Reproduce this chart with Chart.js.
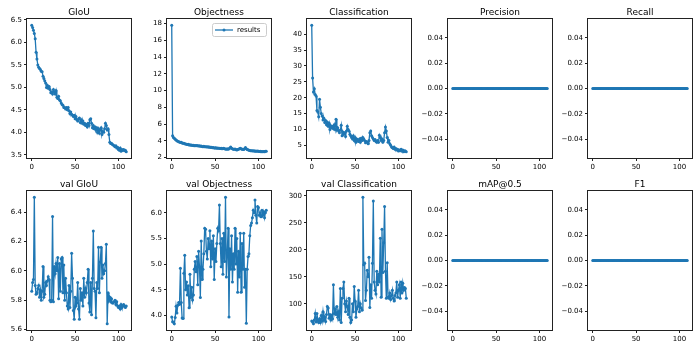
<!DOCTYPE html>
<html>
<head>
<meta charset="utf-8">
<script src="https://cdn.jsdelivr.net/npm/chart.js@4/dist/chart.umd.min.js"></script>
<style>
body { margin: 0; background: #fff; }
#wrap { position: relative; width: 700px; height: 350px; }
#wrap canvas { position: absolute; }
</style>
</head>
<body>
<div id="wrap"></div>
<script>
// training results, one value per epoch (0..109)
const giou = [
  6.38, 6.33, 6.27, 6.20, 6.08, 5.78, 5.63, 5.50, 5.45, 5.42,
  5.40, 5.36, 5.35, 5.25, 5.20, 5.15, 5.10, 5.00, 5.05, 4.98,
  5.02, 4.95, 4.88, 4.90, 4.85, 4.95, 4.90, 4.85, 4.93, 4.78,
  4.75, 4.80, 4.72, 4.70, 4.65, 4.62, 4.60, 4.55, 4.55, 4.52,
  4.55, 4.50, 4.55, 4.48, 4.42, 4.45, 4.40, 4.38, 4.35, 4.38,
  4.30, 4.35, 4.28, 4.25, 4.30, 4.32, 4.22, 4.28, 4.20, 4.25,
  4.18, 4.20, 4.15, 4.18, 4.12, 4.20, 4.15, 4.28, 4.30, 4.20,
  4.10, 4.15, 4.08, 4.12, 4.05, 4.10, 4.00, 4.08, 3.98, 4.05,
  4.10, 3.95, 4.02, 4.00, 4.08, 4.20, 4.15, 4.05, 4.08, 3.95,
  3.78, 3.75, 3.76, 3.73, 3.72, 3.70, 3.68, 3.70, 3.65, 3.67,
  3.62, 3.60, 3.65, 3.58, 3.62, 3.60, 3.62, 3.59, 3.60, 3.57
];
const objectness = [
  17.8, 4.60, 4.40, 4.30, 4.20, 4.10, 4.00, 3.95, 3.90, 3.85,
  3.80, 3.82, 3.75, 3.72, 3.70, 3.65, 3.62, 3.60, 3.55, 3.58,
  3.50, 3.52, 3.48, 3.50, 3.45, 3.47, 3.42, 3.45, 3.40, 3.43,
  3.40, 3.38, 3.42, 3.35, 3.37, 3.33, 3.30, 3.35, 3.28, 3.30,
  3.30, 3.25, 3.28, 3.22, 3.25, 3.20, 3.22, 3.18, 3.20, 3.15,
  3.15, 3.18, 3.12, 3.15, 3.10, 3.12, 3.08, 3.10, 3.05, 3.08,
  3.10, 3.05, 3.02, 3.00, 3.05, 2.98, 3.05, 3.15, 3.25, 3.10,
  3.05, 3.00, 2.98, 3.02, 2.95, 2.90, 2.95, 3.00, 3.05, 3.10,
  3.05, 2.98, 3.00, 2.95, 3.05, 3.20, 3.05, 2.95, 2.92, 2.88,
  2.85, 2.82, 2.80, 2.82, 2.78, 2.80, 2.76, 2.78, 2.75, 2.77,
  2.75, 2.72, 2.74, 2.70, 2.73, 2.70, 2.72, 2.70, 2.74, 2.75
];
const classification = [
  42.8, 26.2, 21.8, 22.8, 21.0, 20.5, 16.0, 15.5, 14.0, 19.5,
  17.0, 15.0, 14.2, 13.0, 13.5, 12.2, 12.8, 11.5, 12.3, 11.0,
  12.0, 10.0, 11.2, 10.5, 11.0, 10.2, 11.5, 10.0, 13.2, 9.8,
  10.5, 9.5, 9.0, 9.8, 11.3, 8.0, 9.2, 8.5, 9.0, 7.8,
  9.5, 11.0, 10.0, 9.5, 8.5, 8.0, 7.5, 7.0, 8.0, 6.5,
  7.5, 6.0, 7.0, 6.5, 6.2, 7.0, 6.0, 7.2, 6.5, 7.5,
  7.0, 6.5, 5.8, 6.2, 6.0, 5.5, 6.5, 9.0, 9.5, 8.0,
  7.5, 7.0, 6.5, 6.8, 6.2, 6.0, 6.5, 6.0, 8.2, 7.5,
  6.5, 7.0, 6.0, 6.5, 9.0, 10.8, 9.5, 7.5, 6.0, 6.5,
  5.5, 5.0, 4.5, 4.2, 4.0, 4.5, 3.8, 4.0, 3.5, 3.8,
  3.2, 3.5, 3.3, 3.8, 3.2, 3.5, 3.0, 3.3, 3.2, 3.0
];
const valGiou = [
  5.86, 5.92, 5.94, 6.50, 5.90, 5.84, 5.85, 5.88, 5.90, 5.82,
  5.87, 5.80, 5.86, 6.03, 5.82, 5.84, 5.92, 5.90, 5.93, 5.96,
  5.94, 5.80, 5.79, 5.80, 6.37, 5.79, 6.03, 5.98, 6.05, 6.00,
  6.09, 5.81, 6.05, 5.86, 6.08, 6.09, 5.85, 6.04, 5.80, 5.95,
  5.85, 5.76, 5.74, 5.90, 5.75, 5.86, 6.12, 5.95, 5.73, 5.67,
  5.82, 5.76, 5.78, 5.92, 5.74, 5.67, 5.88, 5.80, 5.85, 5.76,
  5.95, 5.82, 5.88, 5.85, 5.92, 6.01, 5.78, 5.72, 5.92, 5.70,
  5.95, 6.27, 5.88, 5.86, 5.68, 5.92, 5.88, 6.16, 5.85, 6.06,
  6.16, 5.95, 6.04, 5.98, 6.00, 6.05, 6.18, 5.64, 5.85, 5.80,
  5.82, 5.79, 5.81, 5.78, 5.78, 5.79, 5.80, 5.77, 5.79, 5.76,
  5.75, 5.76, 5.74, 5.77, 5.75, 5.76, 5.77, 5.76, 5.75, 5.76
];
const valObjectness = [
  3.97, 3.88, 3.87, 3.84, 3.96, 4.18, 4.05, 4.20, 4.25, 4.22,
  4.92, 4.25, 3.95, 3.94, 4.82, 5.17, 4.50, 4.65, 4.40, 4.58,
  4.15, 4.80, 4.35, 4.55, 4.30, 4.40, 4.90, 5.05, 4.85, 5.15,
  4.60, 5.25, 4.95, 4.35, 5.45, 4.70, 4.90, 5.20, 5.70, 5.68,
  5.25, 5.10, 5.50, 5.30, 5.65, 4.95, 5.45, 5.10, 5.55, 4.70,
  5.30, 5.05, 5.40, 5.70, 5.65, 6.15, 5.40, 4.95, 5.50, 4.80,
  5.60, 5.05, 6.30, 4.75, 5.20, 5.70, 3.97, 5.30, 4.90, 5.55,
  4.65, 5.20, 4.90, 5.70, 5.00, 5.50, 4.45, 5.25, 4.75, 5.60,
  4.45, 5.40, 4.90, 5.60, 4.55, 4.90, 3.85, 4.90, 5.15, 5.20,
  5.55, 5.75, 5.80, 5.90, 6.05, 6.00, 6.25, 5.95, 5.80, 6.12,
  6.10, 5.95, 6.00, 5.92, 6.05, 5.95, 6.02, 5.90, 6.00, 6.05
];
const valClassification = [
  68, 66, 63, 70, 82, 66, 82, 70, 65, 72,
  65, 78, 68, 85, 70, 75, 67, 80, 95, 92,
  73, 80, 70, 78, 72, 135, 82, 90, 80, 95,
  75, 85, 70, 128, 65, 110, 128, 140, 100, 85,
  105, 95, 80, 110, 75, 65, 70, 100, 85, 132,
  105, 75, 90, 95, 125, 85, 100, 92, 88, 297,
  172, 175, 106, 125, 162, 150, 186, 93, 135, 110,
  175, 290, 140, 125, 118, 160, 135, 155, 140, 221,
  112, 238, 158, 213, 280, 160, 110, 176, 112, 110,
  120, 108, 115, 125, 110, 105, 115, 120, 140, 112,
  125, 135, 110, 140, 120, 138, 125, 130, 128, 110
];
// precision, recall, mAP and F1 stayed at 0 for the whole run
const zeros = [
  0, 0, 0, 0, 0, 0, 0, 0, 0, 0,
  0, 0, 0, 0, 0, 0, 0, 0, 0, 0,
  0, 0, 0, 0, 0, 0, 0, 0, 0, 0,
  0, 0, 0, 0, 0, 0, 0, 0, 0, 0,
  0, 0, 0, 0, 0, 0, 0, 0, 0, 0,
  0, 0, 0, 0, 0, 0, 0, 0, 0, 0,
  0, 0, 0, 0, 0, 0, 0, 0, 0, 0,
  0, 0, 0, 0, 0, 0, 0, 0, 0, 0,
  0, 0, 0, 0, 0, 0, 0, 0, 0, 0,
  0, 0, 0, 0, 0, 0, 0, 0, 0, 0,
  0, 0, 0, 0, 0, 0, 0, 0, 0, 0
];

const titles = ['GIoU', 'Objectness', 'Classification', 'Precision', 'Recall',
                'val GIoU', 'val Objectness', 'val Classification', 'mAP@0.5', 'F1'];
const series = [giou, objectness, classification, zeros, zeros,
                valGiou, valObjectness, valClassification, zeros, zeros];
const ySteps = [0.5, 2, 5, 0.02, 0.02, 0.2, 0.5, 50, 0.02, 0.02];
const yDecimals = [1, 0, 0, 2, 2, 1, 1, 0, 2, 2];
const xStep = 50;

const BLUE = '#1f77b4';
const FONT = '"DejaVu Sans", sans-serif';

// matplotlib-like autoscale: 5% margin, flat data gets +-0.05
function limits(arr) {
  let lo = Math.min(...arr), hi = Math.max(...arr);
  if (lo === hi) { lo -= 0.05; hi += 0.05; }
  const m = (hi - lo) * 0.05;
  return [lo - m, hi + m];
}

function fmt(v, d) {
  return v.toFixed(d).replace('-', '\u2212');
}

const frame = {
  id: 'frame',
  afterDraw(chart, args, opts) {
    const ctx = chart.ctx, a = chart.chartArea;
    ctx.save();
    ctx.strokeStyle = '#222';
    ctx.lineWidth = 1;
    ctx.strokeRect(a.left - 0.5, a.top - 0.5, a.right - a.left + 1, a.bottom - a.top + 1);
    ctx.fillStyle = '#000';
    ctx.font = '9px ' + FONT;
    ctx.textAlign = 'center';
    ctx.textBaseline = 'alphabetic';
    ctx.fillText(opts.title, (a.left + a.right) / 2, a.top - 4.5);
    if (opts.legend) {
      const w = 54, h = 13;
      const x0 = a.right - 5 - w, y0 = a.top + 4;
      ctx.beginPath();
      ctx.roundRect(x0 + 0.5, y0 + 0.5, w, h, 2);
      ctx.fillStyle = 'rgba(255,255,255,0.8)';
      ctx.fill();
      ctx.strokeStyle = '#ccc';
      ctx.stroke();
      const ym = y0 + h / 2 + 0.5;
      ctx.beginPath();
      ctx.moveTo(x0 + 3, ym);
      ctx.lineTo(x0 + 21, ym);
      ctx.strokeStyle = BLUE;
      ctx.lineWidth = 1.3;
      ctx.stroke();
      ctx.beginPath();
      ctx.arc(x0 + 12, ym, 1.5, 0, Math.PI * 2);
      ctx.fillStyle = BLUE;
      ctx.fill();
      ctx.fillStyle = '#000';
      ctx.font = '7px ' + FONT;
      ctx.textAlign = 'left';
      ctx.textBaseline = 'middle';
      ctx.fillText(opts.legend, x0 + 25, ym);
    }
    ctx.restore();
  }
};

const wrap = document.getElementById('wrap');

series.forEach((vals, i) => {
  const col = i % 5, row = Math.floor(i / 5);
  const cv = document.createElement('canvas');
  cv.width = 140; cv.height = 175;
  cv.style.left = Math.round(col * 140.2) + 'px';
  cv.style.top = (row === 0 ? 0 : 172) + 'px';
  wrap.appendChild(cv);

  const [ymin, ymax] = limits(vals);
  const n = vals.length;
  const xpad = (n - 1) * 0.05;
  const pts = vals.map((v, k) => ({ x: k, y: v }));

  new Chart(cv, {
    type: 'line',
    data: {
      datasets: [{
        label: 'results',
        data: pts,
        borderColor: BLUE,
        backgroundColor: BLUE,
        borderWidth: 1.3,
        pointRadius: 1.5,
        pointBorderWidth: 0,
        pointBackgroundColor: BLUE,
        tension: 0
      }]
    },
    options: {
      responsive: false,
      animation: false,
      devicePixelRatio: 1,
      layout: { padding: { top: 19, right: 9, left: 0, bottom: 0 } },
      plugins: {
        legend: { display: false },
        tooltip: { enabled: false },
        frame: { title: titles[i], legend: i === 1 ? 'results' : null }
      },
      scales: {
        x: {
          type: 'linear',
          min: -xpad, max: n - 1 + xpad,
          grid: { drawOnChartArea: false, tickLength: 3, tickColor: '#222' },
          border: { display: false },
          ticks: {
            stepSize: xStep, includeBounds: false, autoSkip: false, maxRotation: 0,
            padding: 2, color: '#000', font: { family: FONT, size: 7 },
            callback: v => fmt(v, 0)
          },
          afterFit: s => { s.height = 17; }
        },
        y: {
          min: ymin, max: ymax,
          grid: { drawOnChartArea: false, tickLength: 3, tickColor: '#222' },
          border: { display: false },
          ticks: {
            stepSize: ySteps[i], includeBounds: false, autoSkip: false,
            padding: 2, color: '#000', font: { family: FONT, size: 7 },
            callback: v => fmt(v, yDecimals[i])
          },
          afterFit: s => { s.width = 27; }
        }
      }
    },
    plugins: [frame]
  });
});
</script>
</body>
</html>
